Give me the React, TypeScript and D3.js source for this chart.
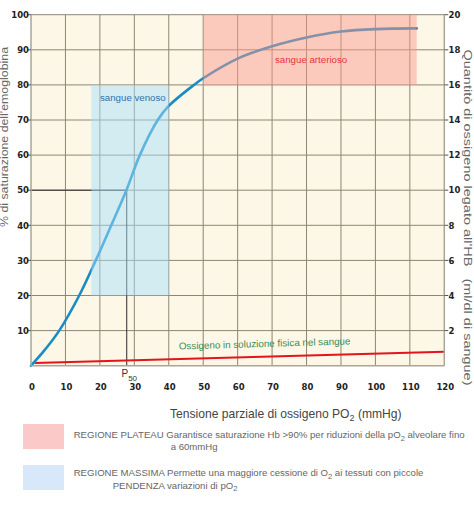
import { scaleLinear, line, curveCatmullRom, range } from "d3";

// curva di dissociazione dell'emoglobina
const pO2 = [0, 4, 8.2, 14, 18.8, 23.3, 27.7, 31.6, 36.8, 40, 47.6, 50, 60, 70, 80, 90, 100, 112];
const saturation = [0, 4.5, 10, 20, 30, 40, 50, 60, 70, 74, 80.2, 81.9, 87.5, 91, 93.5, 95.2, 95.9, 96.1];

// ossigeno in soluzione fisica
const dissolvedX = [1, 120];
const dissolvedY = [0.8, 4];

// regioni
const arterialX = [50, 112];
const arterialY = [80, 100];
const venousX = [17.5, 40];
const venousY = [20, 80];
const p50 = 27.8;

const xTicks = range(0, 121, 10);
const yTicks = range(10, 101, 10);
const yRightTicks = range(2, 21, 2);

const W = 474;
const H = 510;
const FONT = "'Liberation Sans', Arial, sans-serif";
const TICK_FONT = "'DejaVu Sans', Verdana, sans-serif";

const App = () => {
  const x = scaleLinear([0, 120], [31, 444.3]);
  const y = scaleLinear([0, 100], [365.7, 14.7]);
  const yRight = scaleLinear([0, 20], [365.7, 14.7]);

  const curve = line<number>()
    .x((d) => x(d))
    .y((d, i) => y(saturation[i]))
    .curve(curveCatmullRom.alpha(0.5));

  const dissolved = line<number>()
    .x((d) => x(d))
    .y((d, i) => y(dissolvedY[i]));

  const grid = "#8e8673";
  const axis = "#aaa697";

  return (
    <svg
      width={W}
      height={H}
      style={{ position: "absolute", left: 0, top: 0, background: "#fff" }}
    >
      {/* sfondo del grafico */}
      <rect x={x(0)} y={y(100)} width={x(120) - x(0)} height={y(0) - y(100)} fill="#fcf7e6" />

      {/* griglia */}
      <g stroke={grid} strokeWidth={1}>
        {xTicks.slice(1, -1).map((t) => (
          <line key={"gx" + t} x1={x(t)} x2={x(t)} y1={y(0)} y2={y(100)} />
        ))}
        {yTicks.map((t) => (
          <line key={"gy" + t} x1={x(0)} x2={x(120)} y1={y(t)} y2={y(t)} />
        ))}
      </g>

      {/* P50 */}
      <g stroke="#2a2a2a" strokeWidth={1}>
        <line x1={x(0)} x2={x(p50)} y1={y(50)} y2={y(50)} />
        <line x1={x(p50)} x2={x(p50)} y1={y(50)} y2={y(0)} />
      </g>

      {/* ossigeno disciolto */}
      <path d={dissolved(dissolvedX) as string} fill="none" stroke="#e3141c" strokeWidth={2} />

      {/* curva */}
      <path d={curve(pO2) as string} fill="none" stroke="#1b8cc3" strokeWidth={2.6} strokeLinecap="round" />

      {/* regioni (semitrasparenti sopra la curva) */}
      <rect
        x={x(arterialX[0])}
        y={y(arterialY[1])}
        width={x(arterialX[1]) - x(arterialX[0])}
        height={y(arterialY[0]) - y(arterialY[1])}
        fill="rgb(253,150,140)"
        fillOpacity={0.47}
      />
      <rect
        x={x(venousX[0])}
        y={y(venousY[1])}
        width={x(venousX[1]) - x(venousX[0])}
        height={y(venousY[0]) - y(venousY[1])}
        fill="rgb(168,223,255)"
        fillOpacity={0.48}
      />

      <text x={100} y={101} fontFamily={FONT} fontSize={9.7} fill="#2e72ad">
        sangue venoso
      </text>
      <text x={275} y={63} fontFamily={FONT} fontSize={9.7} fill="#e8323c">
        sangue arterioso
      </text>
      <text
        x={179}
        y={349.5}
        fontFamily={FONT}
        fontSize={9.8}
        fill="#3d8c57"
        transform="rotate(-1.7 179 349.5)"
      >
        Ossigeno in soluzione fisica nel sangue
      </text>

      {/* assi */}
      <g stroke={axis} strokeWidth={1.5}>
        <line x1={x(0)} x2={x(0)} y1={y(100)} y2={y(0)} />
        <line x1={x(120)} x2={x(120)} y1={y(100)} y2={y(0)} />
        <line x1={x(0)} x2={x(120)} y1={y(0)} y2={y(0)} />
      </g>
      <g stroke="#555" strokeWidth={1}>
        {yTicks.map((t) => (
          <line key={"tl" + t} x1={x(0) - 4} x2={x(0)} y1={y(t)} y2={y(t)} />
        ))}
        {yRightTicks.map((t) => (
          <line key={"tr" + t} x1={x(120)} x2={x(120) + 4} y1={yRight(t)} y2={yRight(t)} />
        ))}
      </g>

      {/* etichette */}
      <g fontFamily={TICK_FONT} fontWeight="bold" fontSize={8.5} fill="#222">
        {yTicks.map((t) => (
          <text key={"ly" + t} x={29} y={y(t) + 3.2} textAnchor="end">
            {t}
          </text>
        ))}
        {yRightTicks.map((t) => (
          <text key={"ry" + t} x={448.5} y={yRight(t) + 3.2}>
            {t}
          </text>
        ))}
        {xTicks.map((t) => (
          <text key={"lx" + t} x={x(t) + 1} y={390} textAnchor="middle">
            {t}
          </text>
        ))}
      </g>

      <text x={121.5} y={377} fontFamily={FONT} fontSize={10} fill="#333">
        P
        <tspan fontSize={8} dy={4}>
          50
        </tspan>
      </text>

      {/* titoli degli assi */}
      <text
        transform="translate(8,137) rotate(-90)"
        textAnchor="middle"
        fontFamily={FONT}
        fontSize={10}
        fill="#666"
        textLength={180}
        lengthAdjust="spacingAndGlyphs"
      >
        % di saturazione dell'emoglobina
      </text>
      <text
        transform="translate(464,217.5) rotate(90)"
        textAnchor="middle"
        fontFamily={FONT}
        fontSize={10}
        fill="#666"
        textLength={336}
        lengthAdjust="spacingAndGlyphs"
        style={{ whiteSpace: "pre" }}
      >
        {"Quantitò di ossigeno legato all'HB   (ml/dl di sangue)"}
      </text>
      <text x={170} y={418} fontFamily={FONT} fontSize={12.1} fill="#444">
        Tensione parziale di ossigeno PO
        <tspan fontSize={9} dy={3}>
          2
        </tspan>
        <tspan dy={-3}> (mmHg)</tspan>
      </text>

      {/* legenda */}
      <rect x={23} y={424} width={41} height={25} fill="#fcc9c9" />
      <rect x={23} y={465} width={41} height={25} fill="#d7e8fb" />
      <g fontFamily={FONT} fontSize={9.6} fill="#666">
        <text x={73.7} y={438}>
          REGIONE PLATEAU Garantisce saturazione Hb &gt;90% per riduzioni della pO
          <tspan fontSize={7.5} dy={2.5}>
            2
          </tspan>
          <tspan dy={-2.5}> alveolare fino</tspan>
        </text>
        <text x={170.7} y={450}>
          a 60mmHg
        </text>
        <text x={73.7} y={476}>
          REGIONE MASSIMA Permette una maggiore cessione di O
          <tspan fontSize={7.5} dy={2.5}>
            2
          </tspan>
          <tspan dy={-2.5}> ai tessuti con piccole</tspan>
        </text>
        <text x={112.7} y={488.5}>
          PENDENZA variazioni di pO
          <tspan fontSize={7.5} dy={2.5}>
            2
          </tspan>
        </text>
      </g>
    </svg>
  );
};

export default App;
